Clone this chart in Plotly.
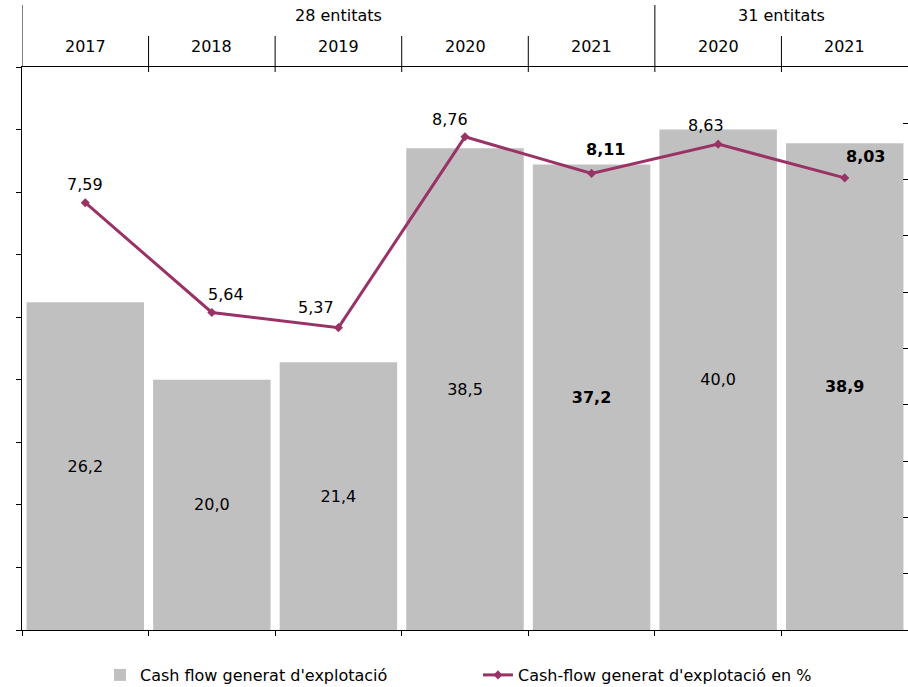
import plotly.graph_objects as go

# ---------------- data ----------------
group_labels = ["28 entitats", "31 entitats"]
group_sizes = [5, 2]
year_labels = ["2017", "2018", "2019", "2020", "2021", "2020", "2021"]
categories = ["2017 (28)", "2018 (28)", "2019 (28)", "2020 (28)", "2021 (28)",
              "2020 (31)", "2021 (31)"]
cash_flow = [26.2, 20.0, 21.4, 38.5, 37.2, 40.0, 38.9]
cash_flow_pct = [7.59, 5.64, 5.37, 8.76, 8.11, 8.63, 8.03]
bold_flags = [False, False, False, False, True, False, True]

bar_name = "Cash flow generat d'explotació"
line_name = "Cash-flow generat d'explotació en %"

# ---------------- style ----------------
FONT = "DejaVu Sans"
BAR_COLOR = "#C0C0C0"
LINE_COLOR = "#993366"
W, H = 908, 687
ML, MR, MT, MB = 22, 0, 67, 57
PLOT_H = H - MT - MB
# label offsets (pixels) for the line labels
label_dx = [0, 14, -22, -15, 14, -12, 21]
label_dy = [18, 18, 20, 17, 24, 19, 21]


def fmt(v, nd):
    return f"{v:.{nd}f}".replace(".", ",")


def wrap(s, b):
    return f"<b>{s}</b>" if b else s


def py(px):
    """pixel row (from top of page) -> paper y"""
    return (H - MB - px) / PLOT_H


fig = go.Figure()

fig.add_trace(go.Bar(
    x=categories, y=cash_flow, name=bar_name,
    marker=dict(color=BAR_COLOR, line=dict(width=0)),
    text=[wrap(fmt(v, 1), b) for v, b in zip(cash_flow, bold_flags)],
    textposition="inside", insidetextanchor="middle", textangle=0,
    textfont=dict(family=FONT, size=16, color="black"),
    constraintext="none",
    hoverinfo="skip",
))

fig.add_trace(go.Scatter(
    x=categories, y=cash_flow_pct, name=line_name, yaxis="y2",
    mode="lines+markers",
    line=dict(color=LINE_COLOR, width=3),
    marker=dict(symbol="diamond", size=7, color=LINE_COLOR),
    hoverinfo="skip",
))

annotations = []
for i, (c, v, b) in enumerate(zip(categories, cash_flow_pct, bold_flags)):
    annotations.append(dict(
        x=c, y=v, xref="x", yref="y2", text=wrap(fmt(v, 2), b),
        showarrow=False, xshift=label_dx[i], yshift=label_dy[i],
        font=dict(family=FONT, size=16, color="black"),
    ))

for c, t in zip(categories, year_labels):
    annotations.append(dict(
        x=c, y=py(46), xref="x", yref="paper", text=t, showarrow=False,
        yanchor="middle", font=dict(family=FONT, size=16, color="black"),
    ))

shapes = []
start = 0
group_bounds = []
for g, n in zip(group_labels, group_sizes):
    center = start + (n - 1) / 2
    annotations.append(dict(
        x=center, y=py(15), xref="x", yref="paper", text=g, showarrow=False,
        yanchor="middle", font=dict(family=FONT, size=16, color="black"),
    ))
    start += n
    group_bounds.append(start - 0.5)

n_cat = len(categories)
for k in range(1, n_cat):
    b = k - 0.5
    if b in group_bounds:
        y1 = py(5)
    else:
        y1 = py(36)
    shapes.append(dict(type="line", xref="x", yref="paper", x0=b, x1=b,
                       y0=py(72), y1=y1, line=dict(color="black", width=1)))
# left axis extension into header
shapes.append(dict(type="line", xref="x", yref="paper", x0=-0.5, x1=-0.5,
                   y0=1, y1=py(5), line=dict(color="black", width=1)))

fig.update_layout(
    width=W, height=H,
    margin=dict(l=ML, r=MR, t=MT, b=MB, pad=0, autoexpand=False),
    paper_bgcolor="white", plot_bgcolor="white",
    font=dict(family=FONT, size=16, color="black"),
    bargap=0.072,
    showlegend=True,
    legend=dict(orientation="h", x=0.088, xanchor="left",
                yref="container", y=(H - 675) / H, yanchor="middle",
                entrywidth=333,
                font=dict(family=FONT, size=16, color="black"),
                bgcolor="rgba(0,0,0,0)"),
    xaxis=dict(type="category", categoryorder="array", categoryarray=categories,
               range=[-0.5, n_cat - 0.5], showticklabels=False,
               ticks="outside", tickson="boundaries", ticklen=5,
               tickcolor="black", showline=True, linecolor="black",
               linewidth=1, mirror=True, showgrid=False, zeroline=False),
    yaxis=dict(range=[0, 45], dtick=5, tick0=0, ticks="outside", ticklen=5,
               tickcolor="black", showline=True, linecolor="black",
               linewidth=1, showticklabels=False, showgrid=False,
               zeroline=False),
    yaxis2=dict(range=[0, 10], dtick=1, tick0=0, overlaying="y", side="right",
                ticks="inside", ticklen=5, tickcolor="black", showline=True,
                linecolor="black", linewidth=1, showticklabels=False,
                showgrid=False, zeroline=False),
    annotations=annotations,
    shapes=shapes,
)

fig.write_html("out.html",
               config={"displayModeBar": False},
               post_script="document.body.style.margin='0';")
